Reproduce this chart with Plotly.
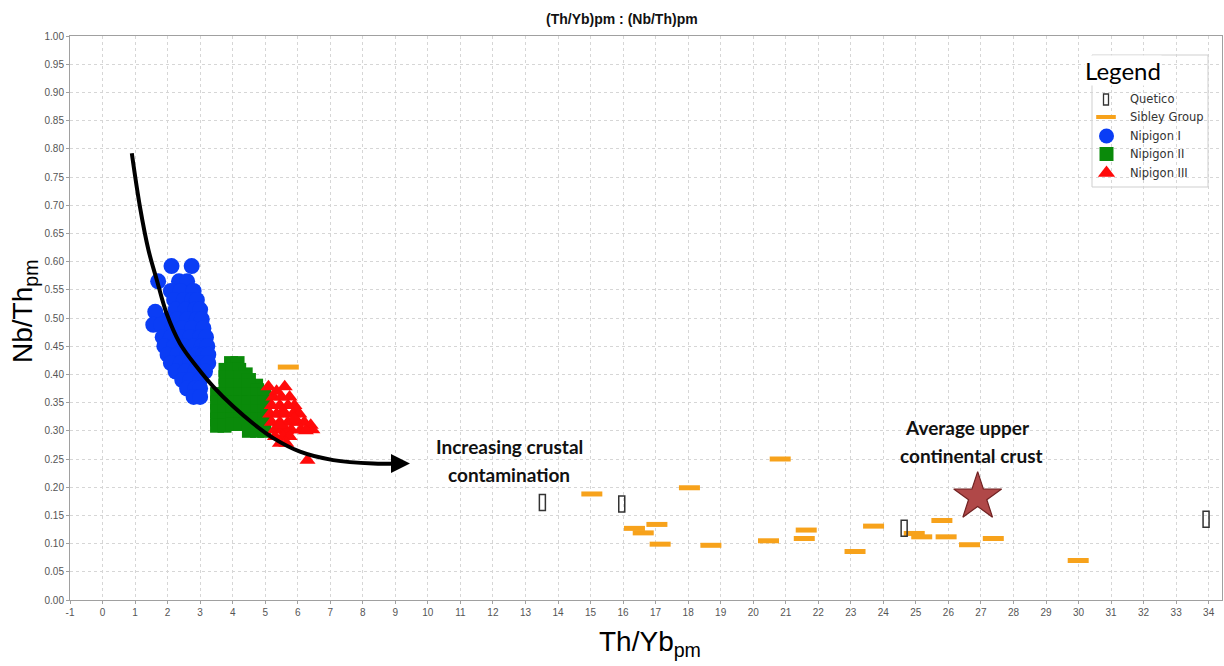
import plotly.graph_objects as go

# ---------------- data ----------------
quetico_x = [13.52, 15.96, 24.64, 33.92]
quetico_y = [0.173, 0.170, 0.127, 0.143]

sibley_x = [5.71, 15.04, 16.35, 16.62, 17.04, 17.14, 18.04, 18.70, 20.47, 20.83, 21.57,
            21.63, 23.13, 23.70, 24.95, 25.18, 25.80, 25.93, 26.65, 27.38, 29.99]
sibley_y = [0.413, 0.188, 0.127, 0.119, 0.134, 0.099, 0.199, 0.097, 0.105, 0.250, 0.109,
            0.124, 0.086, 0.131, 0.118, 0.112, 0.141, 0.112, 0.098, 0.109, 0.070]

nip1_x = [2.12, 2.74,
          1.71, 2.35, 2.60,
          2.10, 2.40, 2.80,
          2.20, 2.50, 2.75, 2.90,
          2.25, 2.55, 2.85, 3.00,
          1.62,
          2.00, 2.30, 2.60, 2.90, 3.05,
          1.56, 1.80,
          2.15, 2.45, 2.75, 3.10,
          1.85, 2.10, 2.40, 2.70, 3.00, 3.18,
          1.90, 2.20, 2.50, 2.80, 3.05, 3.22,
          2.00, 2.30, 2.60, 2.90, 3.10, 3.25,
          2.10, 2.40, 2.70, 3.00, 3.25,
          2.25, 2.55, 2.85, 3.15,
          2.45, 2.70, 3.00,
          2.60, 2.85, 3.00,
          2.80, 3.00]
nip1_y = [0.592, 0.592,
          0.565, 0.565, 0.565,
          0.548, 0.548, 0.548,
          0.532, 0.532, 0.532, 0.532,
          0.515, 0.515, 0.515, 0.515,
          0.511,
          0.498, 0.498, 0.498, 0.498, 0.498,
          0.488, 0.488,
          0.482, 0.482, 0.482, 0.482,
          0.466, 0.466, 0.466, 0.466, 0.466, 0.466,
          0.450, 0.450, 0.450, 0.450, 0.450, 0.450,
          0.435, 0.435, 0.435, 0.435, 0.435, 0.435,
          0.420, 0.420, 0.420, 0.420, 0.420,
          0.405, 0.405, 0.405, 0.405,
          0.390, 0.390, 0.390,
          0.375, 0.375, 0.375,
          0.360, 0.360]

nip2_x = [3.95, 4.15,
          3.78, 4.00, 4.20, 4.40,
          3.78, 4.00, 4.25, 4.50, 4.72,
          3.78, 4.00, 4.25, 4.50, 4.75,
          3.52, 3.75, 4.00, 4.25, 4.50, 4.75, 4.97,
          3.52, 3.75, 4.00, 4.25, 4.50, 4.75, 4.97,
          3.52, 3.75, 4.00, 4.25, 4.50, 4.75, 4.97,
          3.52, 3.75, 4.00, 4.25, 4.50, 4.75, 4.97,
          3.52, 3.75, 4.00, 4.25,
          4.50, 4.75, 4.97]
nip2_y = [0.420, 0.420,
          0.408, 0.408, 0.408, 0.400,
          0.395, 0.395, 0.395, 0.390, 0.380,
          0.380, 0.380, 0.380, 0.380, 0.372,
          0.365, 0.365, 0.365, 0.365, 0.365, 0.365, 0.365,
          0.350, 0.350, 0.350, 0.350, 0.350, 0.350, 0.350,
          0.335, 0.335, 0.335, 0.335, 0.335, 0.335, 0.335,
          0.320, 0.320, 0.320, 0.320, 0.320, 0.320, 0.320,
          0.309, 0.309, 0.312, 0.312,
          0.300, 0.300, 0.300]

nip3_x = [5.10, 5.60,
          5.25, 5.50, 5.75, 5.35,
          5.20, 5.45, 5.70, 5.90, 5.55, 5.95,
          5.15, 5.35, 5.60, 5.85, 6.05,
          5.20, 5.45, 5.70, 6.00, 6.20, 6.40, 5.90,
          5.30, 5.55, 5.80, 6.10, 6.45, 5.65, 6.25,
          5.30, 5.55, 5.75, 5.45,
          5.45, 5.65,
          6.30]
nip3_y = [0.378, 0.378,
          0.360, 0.360, 0.360, 0.370,
          0.345, 0.345, 0.345, 0.345, 0.335, 0.335,
          0.330, 0.330, 0.330, 0.330, 0.330,
          0.315, 0.315, 0.315, 0.315, 0.315, 0.310, 0.322,
          0.302, 0.302, 0.302, 0.302, 0.302, 0.300, 0.300,
          0.290, 0.290, 0.290, 0.310,
          0.278, 0.278,
          0.248]

curve_x = [0.90, 1.15, 1.41, 1.67, 1.97, 2.38, 2.89, 3.41, 4.02, 4.63, 5.25, 6.07, 7.09, 8.32, 9.04]
curve_y = [0.792, 0.697, 0.621, 0.567, 0.508, 0.455, 0.414, 0.378, 0.343, 0.313, 0.287, 0.263, 0.248, 0.242, 0.242]
arrow_tip = (9.45, 0.242)

ucc_x = [26.90]
ucc_y = [0.183]

x_ticks = list(range(-1, 35))

# plot-area pixel geometry (for placing titles / custom legend)
PL, PR, PT, PB = 70, 1222, 36, 600


def px_x(p):
    return (p - PL) / (PR - PL)


def px_y(p):
    return (PB - p) / (PB - PT)


# ---------------- figure ----------------
fig = go.Figure()

fig.add_trace(go.Scatter(x=sibley_x, y=sibley_y, mode='markers', name='Sibley Group',
                         marker=dict(symbol='line-ew', size=15, line=dict(color='#F7A21B', width=5),
                                     color='#F7A21B')))
fig.add_trace(go.Scatter(x=nip1_x, y=nip1_y, mode='markers', name='Nipigon I',
                         marker=dict(symbol='circle', size=16, color='#0A3DF5', line=dict(width=0))))
fig.add_trace(go.Scatter(x=nip2_x, y=nip2_y, mode='markers', name='Nipigon II',
                         marker=dict(symbol='square', size=14, color='#0A8A0A', line=dict(width=0))))
fig.add_trace(go.Scatter(x=nip3_x, y=nip3_y, mode='markers', name='Nipigon III',
                         marker=dict(symbol='triangle-up', size=14, color='#FF0A0A', line=dict(width=0))))
fig.add_trace(go.Scatter(x=curve_x, y=curve_y, mode='lines', line=dict(color='black', width=4, shape='spline'),
                         hoverinfo='skip'))
fig.add_trace(go.Scatter(x=ucc_x, y=ucc_y, mode='markers', name='UCC',
                         marker=dict(symbol='star', size=36, color='#B04848',
                                     line=dict(color='#702222', width=1.2))))

shapes = []
for qx, qy in zip(quetico_x, quetico_y):
    shapes.append(dict(type='rect', xref='x', yref='y', xsizemode='pixel', ysizemode='pixel',
                       xanchor=qx, yanchor=qy, x0=-3, x1=3, y0=-8, y1=8,
                       line=dict(color='#333333', width=1.5), fillcolor='rgba(0,0,0,0)', layer='above'))

# ---------------- custom legend (pixel overlay axes) ----------------
shapes.append(dict(type='rect', xref='x2', yref='y2', x0=1092, x1=1208, y0=55, y1=187,
                   line=dict(color='#cfcfcf', width=1), fillcolor='white', layer='below'))
shapes.append(dict(type='rect', xref='x2', yref='y2', x0=1103.5, x1=1108.5, y0=94, y1=105,
                   line=dict(color='#333333', width=1.3), fillcolor='rgba(0,0,0,0)', layer='above'))

leg_rows = [99, 117, 136, 154, 173]
leg_names = ['Quetico', 'Sibley Group', 'Nipigon I', 'Nipigon II', 'Nipigon III']
fig.add_trace(go.Scatter(x=[1106], y=[leg_rows[1]], xaxis='x2', yaxis='y2', mode='markers', hoverinfo='skip',
                         marker=dict(symbol='line-ew', size=14, line=dict(color='#F7A21B', width=4))))
fig.add_trace(go.Scatter(x=[1106.5], y=[leg_rows[2]], xaxis='x2', yaxis='y2', mode='markers', hoverinfo='skip',
                         marker=dict(symbol='circle', size=15, color='#0A3DF5')))
fig.add_trace(go.Scatter(x=[1106.5], y=[leg_rows[3]], xaxis='x2', yaxis='y2', mode='markers', hoverinfo='skip',
                         marker=dict(symbol='square', size=14, color='#0A8A0A')))
fig.add_trace(go.Scatter(x=[1106.5], y=[leg_rows[4]], xaxis='x2', yaxis='y2', mode='markers', hoverinfo='skip',
                         marker=dict(symbol='triangle-up', size=15, color='#FF0A0A')))

annotations = []
for r, n in zip(leg_rows, leg_names):
    annotations.append(dict(x=1128, y=r, xref='x2', yref='y2', text=n, showarrow=False, xanchor='left',
                            yanchor='middle', font=dict(family='DejaVu Sans', size=11.5, color='#333333')))
annotations.append(dict(x=1084, y=70, xref='x2', yref='y2', text='Legend', showarrow=False, xanchor='left',
                        yanchor='middle', bgcolor='white', borderpad=0,
                        font=dict(family='Lato', size=24, color='black')))

# arrow head at the end of the curve
annotations.append(dict(x=arrow_tip[0], y=arrow_tip[1], ax=curve_x[-1], ay=curve_y[-1],
                        xref='x', yref='y', axref='x', ayref='y', text='', showarrow=True,
                        arrowhead=2, arrowwidth=4, arrowsize=0.95, arrowcolor='black'))

# text labels
txt_font = dict(family='Lato', size=19, color='#111111')
annotations += [
    dict(x=12.5, y=0.273, xref='x', yref='y', text='<b>Increasing crustal</b>', showarrow=False, font=txt_font),
    dict(x=12.5, y=0.222, xref='x', yref='y', text='<b>contamination</b>', showarrow=False, font=txt_font),
    dict(x=26.6, y=0.306, xref='x', yref='y', text='<b>Average upper</b>', showarrow=False, font=txt_font),
    dict(x=26.7, y=0.256, xref='x', yref='y', text='<b>continental crust</b>', showarrow=False, font=txt_font),
]

# title and axis titles (paper coordinates)
annotations += [
    dict(x=px_x(622), y=px_y(19), xref='paper', yref='paper', xanchor='center', yanchor='middle',
         text='<b>(Th/Yb)pm : (Nb/Th)pm</b>',
         showarrow=False, font=dict(family='Liberation Sans', size=14, color='#111111')),
    dict(x=px_x(650), y=px_y(643), xref='paper', yref='paper', xanchor='center', yanchor='middle',
         text='Th/Yb<sub>pm</sub>', showarrow=False,
         font=dict(family='Liberation Sans', size=28, color='black')),
    dict(x=px_x(24), y=px_y(312), xref='paper', yref='paper', xanchor='center', yanchor='middle',
         text='Nb/Th<sub>pm</sub>', showarrow=False,
         textangle=-90, font=dict(family='Liberation Sans', size=28, color='black')),
]

axis_common = dict(showline=True, linecolor='#a0a0a0', linewidth=1, mirror=True,
                   showgrid=True, gridcolor='#d6d6d6', griddash='dot', gridwidth=1,
                   zeroline=False, ticks='outside', ticklen=3, tickcolor='#a0a0a0',
                   tickfont=dict(family='Liberation Sans', size=10, color='#555555'))

fig.update_layout(
    width=1224, height=666,
    margin=dict(l=PL, r=1224 - PR, t=PT, b=666 - PB),
    paper_bgcolor='white', plot_bgcolor='white',
    showlegend=False,
    xaxis=dict(range=[-1, 34.41], tickvals=x_ticks, ticktext=[str(v) for v in x_ticks], **axis_common),
    yaxis=dict(range=[0, 1], dtick=0.05, tick0=0, tickformat='.2f', **axis_common),
    xaxis2=dict(overlaying='x', range=[PL, PR], visible=False, showgrid=False),
    yaxis2=dict(overlaying='y', range=[PB, PT], visible=False, showgrid=False),
    shapes=shapes,
    annotations=annotations,
)

fig.write_html('out.html')
